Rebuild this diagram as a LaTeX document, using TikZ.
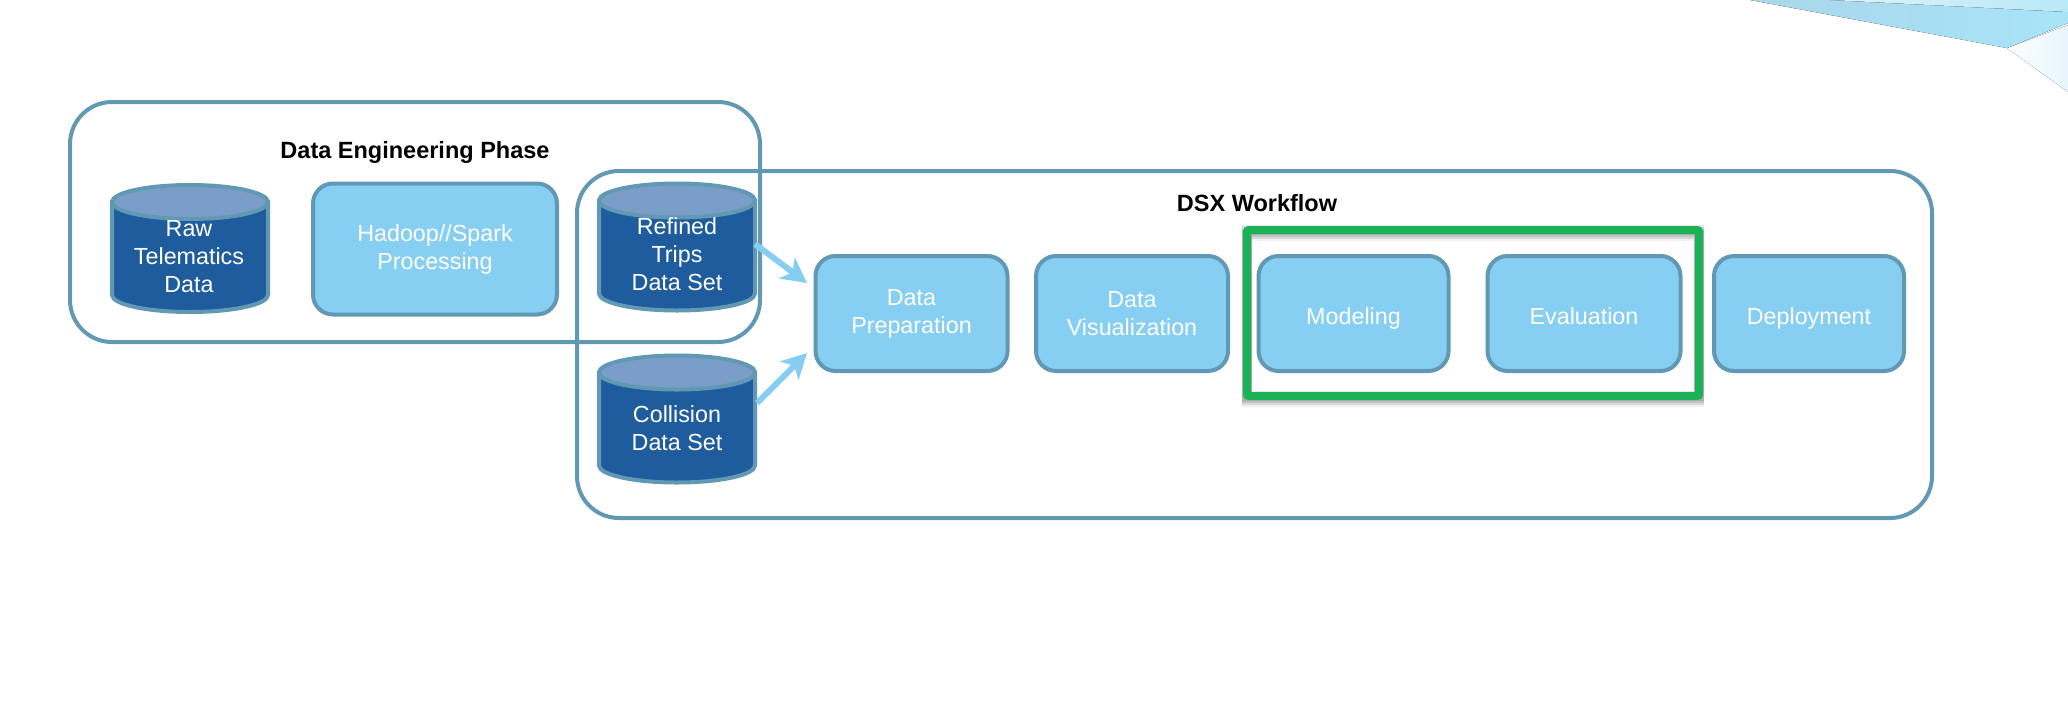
\documentclass[tikz,border=0pt]{standalone}
\usepackage{fontspec}
\setmainfont{Liberation Sans}
\usetikzlibrary{arrows.meta,calc}
\definecolor{edgeblue}{HTML}{6199B4}
\definecolor{boxblue}{HTML}{87CEF3}
\definecolor{cylbody}{HTML}{1F5C9E}
\definecolor{cyltop}{HTML}{7A9EC8}
\definecolor{flowblue}{HTML}{85CEF2}
\definecolor{greenbox}{HTML}{1BB157}
\definecolor{bgA}{HTML}{A9D6EA}
\definecolor{bgB}{HTML}{A8E4F8}
\definecolor{bgC}{HTML}{B9E8F6}
\definecolor{bgD}{HTML}{E6F6FC}
\tikzset{
  x=1pt,y=-1pt,
  group/.style={draw=edgeblue,line width=4pt,rounded corners=42pt},
  grouptitle/.style={font=\fontsize{23.5}{28}\selectfont\bfseries,text=black,inner sep=0pt},
  stage/.style={draw=edgeblue,fill=boxblue,line width=4pt,rounded corners=20pt,minimum height=115pt,align=center,text=white,font=\fontsize{23.3}{28}\selectfont,inner sep=0pt},
  oneline/.style={execute at begin node={\rule{0pt}{27pt}},execute at end node={\rule[-5pt]{0pt}{0pt}}},
  twoline/.style={execute at begin node={\rule{0pt}{33pt}}},
  store/.style={rectangle,minimum width=156pt,minimum height=127pt,inner sep=0pt,outer sep=0pt},
  storeline/.style={draw=edgeblue,line width=4pt},
  storetext/.style={align=center,text=white,font=\fontsize{23.3}{28}\selectfont,inner sep=0pt},
  flow/.style={draw=flowblue,line width=6pt,-{Stealth[length=25pt,width=26pt,inset=7pt]}},
  focus/.style={draw=greenbox,line width=8pt,rounded corners=2pt,minimum width=452pt,minimum height=166pt,inner sep=0pt}
}
\newcommand\storecyl[1]{%
  \draw[storeline,fill=cylbody] ($(#1.north west)+(0,17)$) -- ($(#1.south west)+(0,-17)$)
    .. controls ($(#1.south west)+(0,-7.6)$) and ($(#1.south)+(-43,0)$) .. (#1.south)
    .. controls ($(#1.south)+(43,0)$) and ($(#1.south east)+(0,-7.6)$) .. ($(#1.south east)+(0,-17)$)
    -- ($(#1.north east)+(0,17)$) -- cycle;
  \draw[storeline,fill=cyltop] ($(#1.north west)+(0,17)$)
    .. controls ($(#1.north west)+(0,7.6)$) and ($(#1.north)+(-43,0)$) .. (#1.north)
    .. controls ($(#1.north)+(43,0)$) and ($(#1.north east)+(0,7.6)$) .. ($(#1.north east)+(0,17)$)
    .. controls ($(#1.north east)+(0,26.4)$) and ($(#1.north)+(43,34)$) .. ($(#1.north)+(0,34)$)
    .. controls ($(#1.north)+(-43,34)$) and ($(#1.north west)+(0,26.4)$) .. cycle;
}
\begin{document}
\begin{tikzpicture}
\useasboundingbox (0,0) rectangle (2068,702);
% decorative background corner
\fill[left color=white,right color=bgD] (2007,48) -- (2068,25) -- (2068,92) -- cycle;
\fill[left color=bgA,right color=bgB] (1750,0) -- (2007,48) -- (2068,23) -- (2068,0) -- cycle;
\fill[left color=bgC!50!white,right color=bgC] (1830,0) -- (2068,12) -- (2068,0) -- cycle;
% groups
\draw[group] (70,102) rectangle (760,342);
\draw[group] (577,171) rectangle (1932,518);
\node[grouptitle] (engtitle) at (415,152) {Data Engineering Phase};
\node[grouptitle] (dsxtitle) at (1257,203) {DSX Workflow};
% stores
\node[store] (raw) at (190,248.5) {};
\node[store] (refined) at (677,247) {};
\node[store] (collision) at (677,419) {};
\storecyl{raw}
\storecyl{refined}
\storecyl{collision}
\node[storetext] (rawtext) at (189,257) {Raw\\Telematics\\Data};
\node[storetext] (refinedtext) at (677,254.5) {Refined\\Trips\\Data Set};
\node[storetext] (collisiontext) at (677,428) {Collision\\Data Set};
% stages
\node[stage,twoline,minimum width=244pt,minimum height=131pt] (hadoop) at (435,249) {Hadoop//Spark\\Processing};
\node[stage,twoline,minimum width=192pt] (prep) at (911.5,313.5) {Data\\Preparation};
\node[stage,twoline,minimum width=192pt] (viz) at (1132,313.5) {Data\\Visualization};
\node[stage,oneline,minimum width=190pt] (model) at (1353.5,313.5) {Modeling};
\node[stage,oneline,minimum width=193pt] (eval) at (1584,313.5) {Evaluation};
\node[stage,oneline,minimum width=190pt] (deploy) at (1809,313.5) {Deployment};
% highlight
\foreach \o/\a in {0/.10,2/.10,4/.10,6/.06}{
  \draw[black,opacity=\a,line width=10pt] (1247,230+\o) rectangle (1699,396+\o);
}
\node[focus] (focusbox) at (1473,313) {};
% connectors
\draw[flow] ($(refined.center)+(78,-3)$) -- ($(prep.center)+(-104.5,-30.5)$);
\draw[flow] ($(collision.center)+(80,-16)$) -- ($(prep.center)+(-104.5,39.5)$);
\end{tikzpicture}
\end{document}
